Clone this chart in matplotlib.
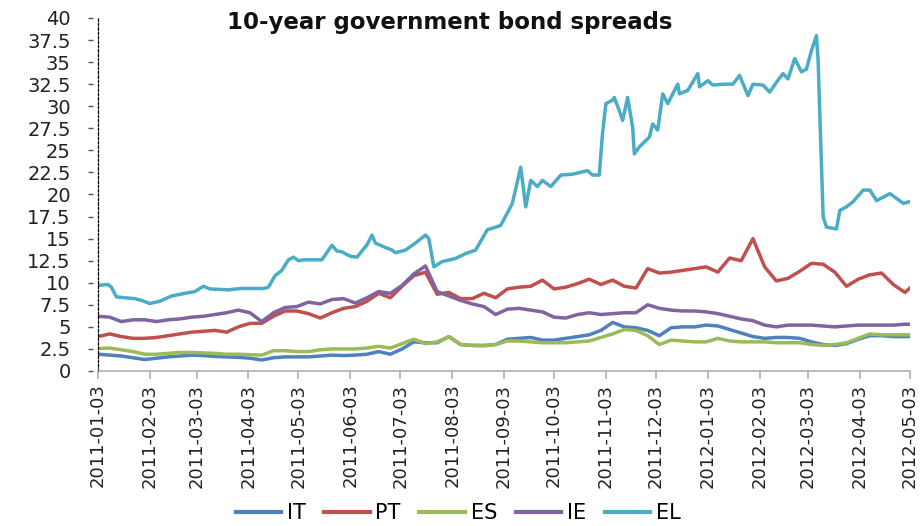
import matplotlib
matplotlib.use("Agg")
import matplotlib.pyplot as plt
import matplotlib.dates as mdates
import matplotlib.transforms as mtransforms
import pandas as pd
import numpy as np

# ---------------- data ----------------
weekly_dates = list(pd.date_range("2011-01-03", periods=70, freq="7D")) + [pd.Timestamp("2012-05-03")]

it_values = [1.9, 1.8, 1.7, 1.5, 1.3, 1.45, 1.6, 1.7, 1.8, 1.75,
             1.65, 1.6, 1.55, 1.45, 1.25, 1.5, 1.6, 1.6, 1.6, 1.7,
             1.8, 1.75, 1.8, 1.9, 2.2, 1.9, 2.5, 3.3, 3.2, 3.2,
             3.9, 3.0, 2.9, 2.9, 3.0, 3.6, 3.7, 3.8, 3.5, 3.5,
             3.7, 3.9, 4.1, 4.6, 5.5, 5.0, 4.9, 4.6, 4.0, 4.9,
             5.0, 5.0, 5.2, 5.1, 4.7, 4.3, 3.9, 3.7, 3.8, 3.8,
             3.7, 3.3, 3.0, 2.9, 3.1, 3.6, 4.0, 4.0, 3.9, 3.9, 3.9]

pt_values = [3.9, 4.2, 3.9, 3.7, 3.7, 3.8, 4.0, 4.2, 4.4, 4.5,
             4.6, 4.4, 5.0, 5.4, 5.4, 6.2, 6.8, 6.8, 6.5, 6.0,
             6.6, 7.1, 7.3, 7.9, 8.8, 8.3, 9.6, 10.8, 11.2, 8.7,
             8.9, 8.2, 8.2, 8.8, 8.3, 9.3, 9.5, 9.6, 10.3, 9.3,
             9.5, 9.9, 10.4, 9.8, 10.3, 9.6, 9.4, 11.6, 11.1, 11.2,
             11.4, 11.6, 11.8, 11.2, 12.8, 12.5, 15.0, 11.8, 10.2, 10.5,
             11.3, 12.2, 12.1, 11.2, 9.6, 10.4, 10.9, 11.1, 9.8, 8.9, 9.4]

es_values = [2.55, 2.6, 2.4, 2.2, 1.9, 1.9, 2.0, 2.1, 2.1, 2.05,
             2.0, 1.9, 1.9, 1.85, 1.8, 2.3, 2.3, 2.2, 2.2, 2.4,
             2.5, 2.5, 2.5, 2.6, 2.8, 2.6, 3.1, 3.6, 3.1, 3.3,
             3.9, 3.0, 2.9, 2.85, 3.0, 3.4, 3.4, 3.3, 3.2, 3.2,
             3.2, 3.3, 3.4, 3.8, 4.2, 4.7, 4.6, 4.0, 3.0, 3.5,
             3.4, 3.3, 3.3, 3.7, 3.4, 3.3, 3.3, 3.3, 3.2, 3.2,
             3.2, 3.0, 2.9, 3.0, 3.2, 3.7, 4.2, 4.1, 4.1, 4.1, 4.1]

ie_values = [6.2, 6.1, 5.6, 5.8, 5.8, 5.6, 5.8, 5.9, 6.1, 6.2,
             6.4, 6.6, 6.9, 6.6, 5.6, 6.6, 7.2, 7.3, 7.8, 7.6,
             8.1, 8.2, 7.7, 8.3, 9.0, 8.8, 9.7, 11.0, 11.9, 9.0,
             8.5, 8.0, 7.6, 7.3, 6.4, 7.0, 7.1, 6.9, 6.7, 6.1,
             6.0, 6.4, 6.6, 6.4, 6.5, 6.6, 6.6, 7.5, 7.1, 6.9,
             6.8, 6.8, 6.7, 6.5, 6.2, 5.9, 5.7, 5.2, 5.0, 5.2,
             5.2, 5.2, 5.1, 5.0, 5.1, 5.2, 5.2, 5.2, 5.2, 5.3, 5.3]

el_dates = ["2011-01-03", "2011-01-09", "2011-01-11", "2011-01-14", "2011-01-19",
            "2011-01-25", "2011-01-29", "2011-02-03", "2011-02-09", "2011-02-16",
            "2011-02-24", "2011-03-02", "2011-03-07", "2011-03-11", "2011-03-22",
            "2011-03-30", "2011-04-12", "2011-04-15", "2011-04-19", "2011-04-23",
            "2011-04-27", "2011-04-30", "2011-05-03", "2011-05-06", "2011-05-11",
            "2011-05-17", "2011-05-23", "2011-05-26", "2011-05-29", "2011-06-03",
            "2011-06-07", "2011-06-13", "2011-06-16", "2011-06-18", "2011-06-24",
            "2011-06-28", "2011-06-30", "2011-07-06", "2011-07-12", "2011-07-18",
            "2011-07-20", "2011-07-23", "2011-07-28", "2011-08-05", "2011-08-11",
            "2011-08-17", "2011-08-24", "2011-08-29", "2011-09-01", "2011-09-05",
            "2011-09-08", "2011-09-13", "2011-09-16", "2011-09-19", "2011-09-23",
            "2011-09-26", "2011-10-01", "2011-10-07", "2011-10-14", "2011-10-23",
            "2011-10-26", "2011-10-30", "2011-11-01", "2011-11-03", "2011-11-07",
            "2011-11-08", "2011-11-11", "2011-11-13", "2011-11-16", "2011-11-19",
            "2011-11-20", "2011-11-23", "2011-11-29", "2011-12-01", "2011-12-04",
            "2011-12-07", "2011-12-10", "2011-12-16", "2011-12-17", "2011-12-22",
            "2011-12-28", "2011-12-29", "2012-01-03", "2012-01-06", "2012-01-12",
            "2012-01-18", "2012-01-22", "2012-01-27", "2012-01-30", "2012-02-05",
            "2012-02-09", "2012-02-13", "2012-02-17", "2012-02-20", "2012-02-24",
            "2012-02-28", "2012-03-02", "2012-03-05", "2012-03-08", "2012-03-09",
            "2012-03-12", "2012-03-14", "2012-03-20", "2012-03-22", "2012-03-26",
            "2012-03-30", "2012-04-05", "2012-04-09", "2012-04-13", "2012-04-21",
            "2012-04-29", "2012-05-03"]

el_values = [9.7, 9.8, 9.5, 8.4, 8.3, 8.2, 8.0, 7.65, 7.9, 8.5,
             8.8, 9.0, 9.6, 9.3, 9.2, 9.35, 9.35, 9.5, 10.8, 11.4,
             12.6, 12.9, 12.5, 12.6, 12.6, 12.6, 14.25, 13.6, 13.5, 13.0,
             12.9, 14.3, 15.4, 14.5, 14.0, 13.7, 13.4, 13.7, 14.5, 15.4,
             15.0, 11.8, 12.4, 12.75, 13.3, 13.7, 16.0, 16.3, 16.5, 17.9,
             19.0, 23.1, 18.6, 21.6, 20.9, 21.6, 20.9, 22.2, 22.3, 22.7,
             22.2, 22.2, 27.0, 30.3, 30.7, 31.0, 29.5, 28.4, 31.0, 27.6,
             24.6, 25.4, 26.5, 28.0, 27.3, 31.4, 30.3, 32.5, 31.4, 31.8,
             33.7, 32.2, 32.9, 32.4, 32.5, 32.5, 33.5, 31.2, 32.5, 32.4,
             31.6, 32.7, 33.7, 33.1, 35.4, 33.9, 34.2, 36.3, 38.0, 35.2,
             17.5, 16.3, 16.1, 18.2, 18.6, 19.2, 20.5, 20.5, 19.3, 20.1,
             19.0, 19.2]

series_names = ["IT", "PT", "ES", "IE", "EL"]
series_colors = ["#4F81BD", "#C0504D", "#9BBB59", "#8064A2", "#4BACC6"]
y_ticks = [0, 2.5, 5, 7.5, 10, 12.5, 15, 17.5, 20, 22.5, 25, 27.5, 30, 32.5, 35, 37.5, 40]
y_tick_labels = ["0", "2.5", "5", "7.5", "10", "12.5", "15", "17.5", "20", "22.5",
                 "25", "27.5", "30", "32.5", "35", "37.5", "40"]
x_tick_dates = ["2011-01-03", "2011-02-03", "2011-03-03", "2011-04-03", "2011-05-03",
                "2011-06-03", "2011-07-03", "2011-08-03", "2011-09-03", "2011-10-03",
                "2011-11-03", "2011-12-03", "2012-01-03", "2012-02-03", "2012-03-03",
                "2012-04-03", "2012-05-03"]
title_text = "10-year government bond spreads"

# ---------------- plot ----------------
plt.rcParams["font.family"] = ["DejaVu Sans"]
fig = plt.figure(figsize=(9.21, 5.26), dpi=100)
ax = fig.add_axes([98 / 921, 1 - 371 / 526, (910 - 98) / 921, (371 - 18) / 526])

xs = [weekly_dates, weekly_dates, weekly_dates, weekly_dates, pd.to_datetime(el_dates)]
ys = [it_values, pt_values, es_values, ie_values, el_values]
for name, col, xv, yv in zip(series_names, series_colors, xs, ys):
    ax.plot(xv, yv, color=col, lw=2.5, label=name, solid_joinstyle="round")

ax.set_xlim(pd.Timestamp(x_tick_dates[0]), pd.Timestamp(x_tick_dates[-1]))
ax.set_ylim(0, 40)
ax.set_yticks(y_ticks)
ax.set_yticklabels(y_tick_labels)
ax.set_xticks(pd.to_datetime(x_tick_dates))
ax.set_xticklabels(x_tick_dates, rotation=90)

for s in ["top", "right"]:
    ax.spines[s].set_visible(False)
ax.spines["left"].set_linestyle((0, (2, 1.5)))
ax.spines["left"].set_color("black")
ax.spines["left"].set_linewidth(0.9)
ax.spines["bottom"].set_color("#b0b0b0")
ax.spines["bottom"].set_linewidth(1.2)

ax.tick_params(axis="y", length=3.6, width=1, color="#555555", labelsize=14, pad=16, labelcolor="#222222")
ax.tick_params(axis="x", length=6, width=1.2, color="#b0b0b0", labelsize=13, pad=3, labelcolor="#222222")
offset = mtransforms.ScaledTranslation(-5 / 100, 0, fig.dpi_scale_trans)
for t in ax.yaxis.get_major_ticks():
    t.tick1line.set_transform(t.tick1line.get_transform() + offset)

fig.text(449.5 / 921, 1 - 22 / 526, title_text, ha="center", va="center",
         fontsize=16.5, fontweight="bold", color="#111111")

leg = fig.legend(loc="center", bbox_to_anchor=(458 / 921, 1 - 513 / 526), ncol=5,
                 frameon=False, fontsize=15, handlelength=2.2, handletextpad=0.25,
                 columnspacing=0.9)
for h in leg.get_lines():
    h.set_linewidth(3)

fig.savefig("out.png", dpi=100)
